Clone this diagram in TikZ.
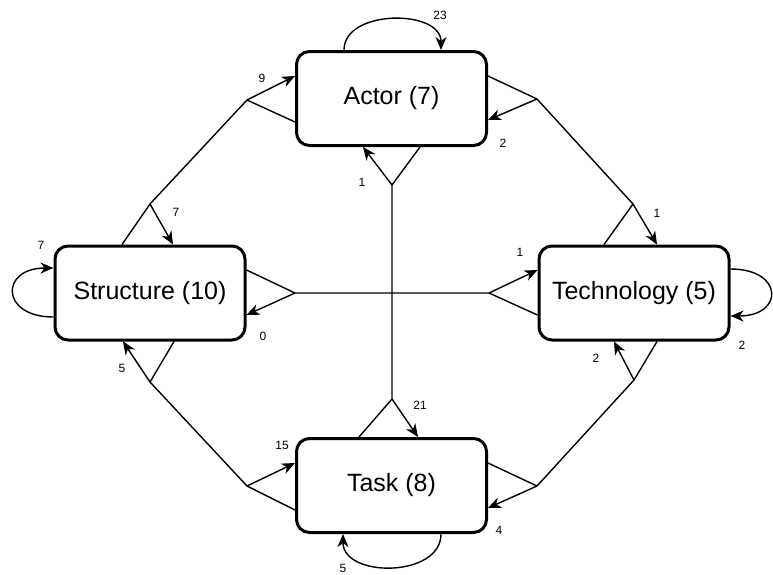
\documentclass[tikz,border=0pt]{standalone}
\usepackage{fontspec}
\setmainfont{Liberation Sans}
\usetikzlibrary{arrows.meta}
\begin{document}
\begin{tikzpicture}[x=1pt,y=-1pt,
  entity/.style={draw, line width=3pt, rounded corners=13pt, fill=white,
    minimum width=190pt, minimum height=94pt,
    font=\fontsize{25}{30}\selectfont},
  link/.style={line width=1.4pt, line join=round},
  linkarrow/.style={link, -{Stealth[length=13pt,width=11pt,inset=4pt]}},
  count/.style={font=\fontsize{12}{14}\selectfont, inner sep=0pt}]
\useasboundingbox (0,0) rectangle (773,574);

% entities
\node[entity] (actor) at (391.5,98.5) {Actor (7)};
\node[entity] (struct) at (150,293) {Structure (10)};
\node[entity] (tech) at (634,293) {Technology (5)};
\node[entity] (task) at (391.5,485.5) {Task (8)};

% fork points of the two-way links
\coordinate (jSA) at (247,100);
\coordinate (jAS) at (150,204);
\coordinate (jAT) at (537,99);
\coordinate (jTA) at (633,204);
\coordinate (jST) at (295,293);
\coordinate (jTS) at (489,293);
\coordinate (jAK) at (392,185);
\coordinate (jKA) at (392,399);
\coordinate (jSK) at (150,382);
\coordinate (jKS) at (247,486);
\coordinate (jTK) at (634,380);
\coordinate (jKT) at (537,486);

% Structure <-> Actor
\draw[link] ([xshift=-28pt]struct.north) -- (jAS) -- (jSA) -- ([yshift=-23.5pt]actor.west);
\draw[linkarrow] (jSA) -- ([yshift=22.5pt]actor.west);
\draw[linkarrow] (jAS) -- ([xshift=23pt]struct.north);

% Actor <-> Technology
\draw[link] ([yshift=22.5pt]actor.east) -- (jAT) -- (jTA) -- ([xshift=-30pt]tech.north);
\draw[linkarrow] (jAT) -- ([yshift=-21.5pt]actor.east);
\draw[linkarrow] (jTA) -- ([xshift=23pt]tech.north);

% Structure <-> Technology
\draw[link] ([yshift=23pt]struct.east) -- (jST) -- (jTS) -- ([yshift=-22pt]tech.west);
\draw[linkarrow] (jST) -- ([yshift=-22pt]struct.east);
\draw[linkarrow] (jTS) -- ([yshift=23pt]tech.west);

% Actor <-> Task
\draw[link] ([xshift=28.5pt]actor.south) -- (jAK) -- (jKA) -- ([xshift=-32.5pt]task.north);
\draw[linkarrow] (jAK) -- ([xshift=-28.5pt]actor.south);
\draw[linkarrow] (jKA) -- ([xshift=26.5pt]task.north);

% Structure <-> Task
\draw[link] ([xshift=24pt]struct.south) -- (jSK) -- (jKS) -- ([yshift=-24.5pt]task.west);
\draw[linkarrow] (jSK) -- ([xshift=-27pt]struct.south);
\draw[linkarrow] (jKS) -- ([yshift=22.5pt]task.west);

% Technology <-> Task
\draw[link] ([xshift=23pt]tech.south) -- (jTK) -- (jKT) -- ([yshift=22.5pt]task.east);
\draw[linkarrow] (jTK) -- ([xshift=-20pt]tech.south);
\draw[linkarrow] (jKT) -- ([yshift=-22.5pt]task.east);

% self links
\draw[linkarrow] ([xshift=-47.5pt]actor.north) .. controls (344,9) and (441,9) .. ([xshift=49.5pt]actor.north);
\draw[linkarrow] ([yshift=-24pt]struct.west) .. controls (0,317) and (0,268) .. ([yshift=25pt]struct.west);
\draw[linkarrow] ([yshift=24pt]tech.east) .. controls (784,269) and (784,316) .. ([yshift=-23pt]tech.east);
\draw[linkarrow] ([xshift=49.5pt]task.south) .. controls (441,578) and (343,578) .. ([xshift=-48.5pt]task.south);

% counts
\node[count] (c23) at (440,15) {23};
\node[count] (c9) at (262,78) {9};
\node[count] (c2a) at (503,143) {2};
\node[count] (c1a) at (362,182) {1};
\node[count] (c7s) at (176,212) {7};
\node[count] (c7l) at (41,245) {7};
\node[count] (c0) at (263,336) {0};
\node[count] (c5s) at (122,368) {5};
\node[count] (c1t) at (520,252) {1};
\node[count] (c1n) at (657,213) {1};
\node[count] (c2l) at (742,345) {2};
\node[count] (c2t) at (596,358) {2};
\node[count] (c21) at (420,405) {21};
\node[count] (c15) at (282,445) {15};
\node[count] (c4) at (499,530) {4};
\node[count] (c5l) at (343,568) {5};
\end{tikzpicture}
\end{document}
